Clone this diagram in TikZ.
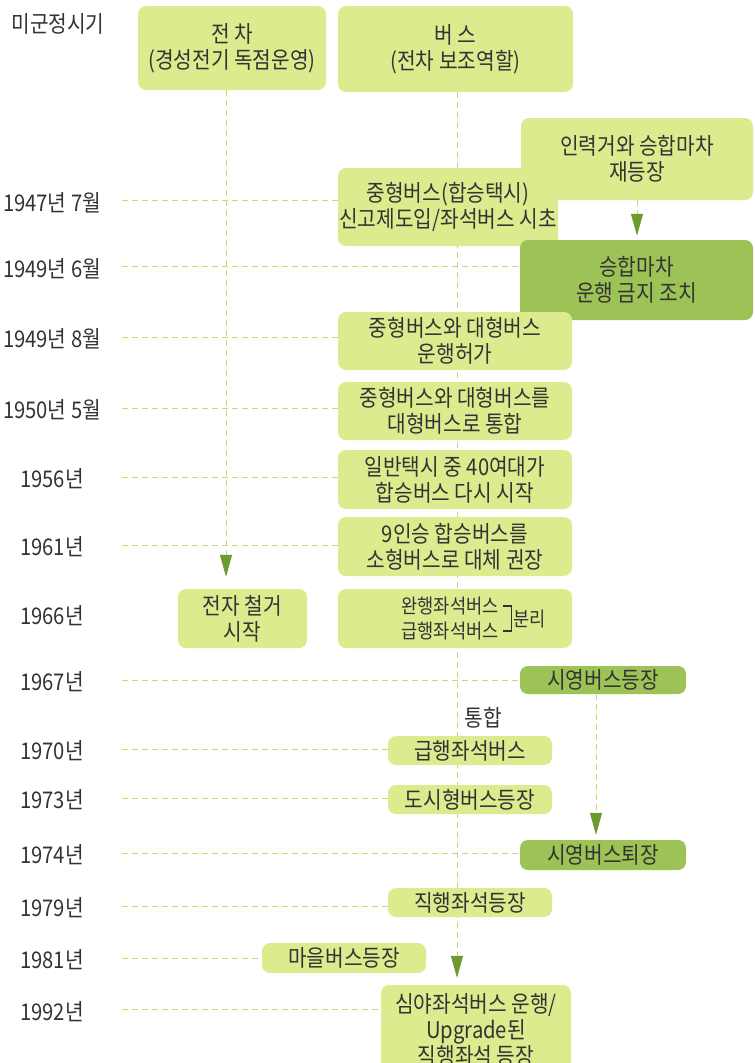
\documentclass[tikz,border=0pt]{standalone}
\usepackage{fontspec}
\setmainfont{Noto Sans CJK KR}[FakeStretch=0.88]
\usetikzlibrary{arrows.meta,backgrounds}
\definecolor{lightbox}{HTML}{DDEB8F}
\definecolor{darkbox}{HTML}{9DC255}
\definecolor{dashc}{HTML}{C8D970}
\definecolor{arrowc}{HTML}{6C9A2E}
\definecolor{txt}{HTML}{333333}
\begin{document}
\begin{tikzpicture}[x=1pt,y=-1pt,
  font=\fontsize{23}{26}\selectfont, text=txt,
  box/.style={fill=lightbox, rounded corners=8pt, align=center, inner sep=0pt},
  dbox/.style={box, fill=darkbox},
  yr/.style={anchor=center, yshift=-3pt},
  hl/.style={draw=dashc, dash pattern=on 6pt off 4pt, line width=1pt},
  vl/.style={draw=dashc, dash pattern=on 6pt off 4pt, line width=1pt},
  arr/.style={-{Triangle[width=12pt,length=22pt,color=arrowc]}},
  small/.style={font=\fontsize{20}{24}\selectfont}
]
\useasboundingbox (0,0) rectangle (755,1063);

% year labels
\node[yr] (ymg) at (58,21) {미군정시기};
\node[yr] (y47) at (52,200) {1947년 7월};
\node[yr] (y496) at (52,266) {1949년 6월};
\node[yr] (y498) at (52,336) {1949년 8월};
\node[yr] (y50) at (52,407) {1950년 5월};
\node[yr] (y56) at (52,476) {1956년};
\node[yr] (y61) at (52,544) {1961년};
\node[yr] (y66) at (52,613) {1966년};
\node[yr] (y67) at (52,679) {1967년};
\node[yr] (y70) at (52,748) {1970년};
\node[yr] (y73) at (52,797) {1973년};
\node[yr] (y74) at (52,852) {1974년};
\node[yr] (y79) at (52,905) {1979년};
\node[yr] (y81) at (52,957) {1981년};
\node[yr] (y92) at (52,1009) {1992년};

% boxes
\node[box, minimum width=188pt, minimum height=84pt] (tram) at (232,48) {전 차\\(경성전기 독점운영)};
\node[box, minimum width=235pt, minimum height=86pt] (bus) at (455.5,49) {버 스\\(전차 보조역할)};
\node[box, minimum width=232pt, minimum height=82pt] (inr) at (637,159) {인력거와 승합마차\\재등장};
\node[box, minimum width=220pt, minimum height=78pt] (b47) at (448,207) {중형버스(합승택시)\\신고제도입/좌석버스 시초};
\node[dbox, minimum width=233pt, minimum height=80pt] (ban) at (636.5,280) {승합마차\\운행 금지 조치};
\node[box, minimum width=234pt, minimum height=58pt] (b498) at (455,341) {중형버스와 대형버스\\운행허가};
\node[box, minimum width=234pt, minimum height=58pt] (b50) at (455,411) {중형버스와 대형버스를\\대형버스로 통합};
\node[box, minimum width=234pt, minimum height=59pt] (b56) at (455,479.5) {일반택시 중 40여대가\\합승버스 다시 시작};
\node[box, minimum width=234pt, minimum height=59pt] (b61) at (455,546.5) {9인승 합승버스를\\소형버스로 대체 권장};
\node[box, minimum width=129pt, minimum height=59pt] (chul) at (242.5,618.5) {전자 철거\\시작};
\node[box, minimum width=234pt, minimum height=59pt] (b66) at (455,618.5) {};
\node[small] (wan) at (450,606) {완행좌석버스};
\node[small] (geup) at (450,631) {급행좌석버스};
\draw[txt, line width=1.1pt] ([xshift=1pt]wan.east) -- ++(8,0) |- ([xshift=1pt]geup.east);
\node[small, anchor=west] (bunri) at (510,619) {분리};
\node[dbox, minimum width=166pt, minimum height=28pt] (sy1) at (603,680) {시영버스등장};
\node (tong) at (483,718) {통합};
\node[box, minimum width=164pt, minimum height=29pt] (b70) at (470,750.5) {급행좌석버스};
\node[box, minimum width=164pt, minimum height=29pt] (b73) at (470,799.5) {도시형버스등장};
\node[dbox, minimum width=166pt, minimum height=30pt] (sy2) at (603,855) {시영버스퇴장};
\node[box, minimum width=164pt, minimum height=29pt] (b79) at (470,902.5) {직행좌석등장};
\node[box, minimum width=164pt, minimum height=30pt] (b81) at (344,958) {마을버스등장};
\node[box, minimum width=190pt, minimum height=90pt] (b92) at (476,1030) {심야좌석버스 운행/\\Upgrade된\\직행좌석 등장};

\coordinate (ls) at (122,0);
\coordinate (tx) at (226,0);
\coordinate (mx) at (457,0);
\coordinate (hx) at (637,0);
\coordinate (sx) at (596,0);

\begin{pgfonlayer}{background}
\draw[hl] (ls |- 0,200) -- (b47.west |- 0,200);
\draw[hl] (ls |- 0,266) -- (ban.west |- 0,266);
\draw[hl] (ls |- 0,337) -- (b498.west |- 0,337);
\draw[hl] (ls |- 0,408) -- (b50.west |- 0,408);
\draw[hl] (ls |- 0,477) -- (b56.west |- 0,477);
\draw[hl] (ls |- 0,545) -- (b61.west |- 0,545);
\draw[hl] (ls |- 0,680) -- (sy1.west |- 0,680);
\draw[hl] (ls |- 0,749) -- (b70.west |- 0,749);
\draw[hl] (ls |- 0,798) -- (b73.west |- 0,798);
\draw[hl] (ls |- 0,853) -- (sy2.west |- 0,853);
\draw[hl] (ls |- 0,906) -- (b79.west |- 0,906);
\draw[hl] (ls |- 0,958) -- (b81.west |- 0,958);
\draw[hl] (ls |- 0,1009) -- (b92.west |- 0,1009);
\draw[vl, arr, shorten >=12pt] (tram.south -| tx) -- (chul.north -| tx);
\draw[vl, arr, shorten >=7pt] (bus.south -| mx) -- (b92.north -| mx);
\draw[vl, arr, shorten >=4pt] (inr.south -| hx) -- (ban.north -| hx);
\draw[vl, arr, shorten >=5pt] (sy1.south -| sx) -- (sy2.north -| sx);
\end{pgfonlayer}
\end{tikzpicture}
\end{document}
